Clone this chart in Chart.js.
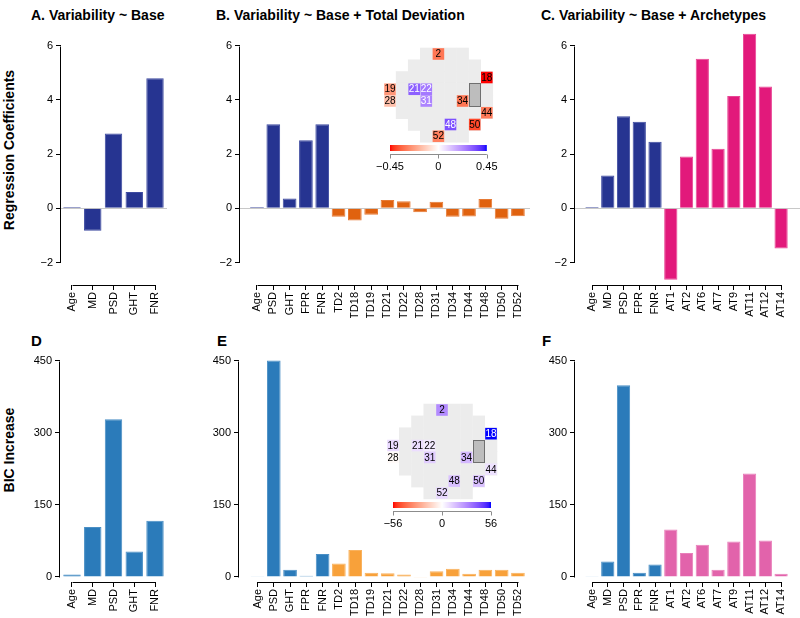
<!DOCTYPE html>
<html>
<head>
<meta charset="utf-8">
<script src="https://cdn.jsdelivr.net/npm/chart.js@4.4.1/dist/chart.umd.min.js"></script>
<style>
  html, body { margin: 0; padding: 0; background: #fff; }
  body { position: relative; width: 800px; height: 618px; overflow: hidden; font-family: 'Liberation Sans', Arial, sans-serif; color: #000; }
  canvas { position: absolute; }
  .title { position: absolute; font-size: 14px; font-weight: bold; white-space: nowrap; }
  .letter { position: absolute; font-size: 15px; font-weight: bold; }
  .y-title { position: absolute; font-size: 14px; font-weight: bold; white-space: nowrap; transform: translate(-50%, -50%) rotate(-90deg); }
</style>
</head>
<body>
<div class="title" style="left:31px; top:7px">A. Variability ~ Base</div>
<div class="title" style="left:216px; top:7px">B. Variability ~ Base + Total Deviation</div>
<div class="title" style="left:541px; top:7px">C. Variability ~ Base + Archetypes</div>
<div class="letter" style="left:31px; top:332px">D</div>
<div class="letter" style="left:217px; top:332px">E</div>
<div class="letter" style="left:542px; top:332px">F</div>
<div class="y-title" style="left:9px; top:150px">Regression Coefficients</div>
<div class="y-title" style="left:9px; top:450px">BIC Increase</div>

<script>
// predictors
const baseA = ['Age', 'MD', 'PSD', 'GHT', 'FNR'];
const baseB = ['Age', 'PSD', 'GHT', 'FPR', 'FNR'];
const baseC = ['Age', 'MD', 'PSD', 'FPR', 'FNR'];
const tdCells = [2, 18, 19, 21, 22, 28, 31, 34, 44, 48, 50, 52];
const archetypes = [1, 2, 6, 7, 9, 11, 12, 14];

// regression coefficients (top row)
const coefA = [0.05, -0.83, 2.76, 0.6, 4.8];
const coefB = [0.05, 3.1, 0.36, 2.51, 3.1,
  -0.31, -0.45, -0.24, 0.31, 0.26, -0.15, 0.24, -0.31, -0.3, 0.34, -0.39, -0.29];
const coefC = [0.05, 1.21, 3.4, 3.2, 2.46,
  -2.64, 1.91, 5.52, 2.2, 4.15, 6.45, 4.5, -1.48];

// BIC increase (bottom row)
const bicA = [5, 104, 328, 53, 117];
const bicB = [1.5, 450, 15, 2.5, 48,
  28, 56, 9, 8, 5, -1.5, 12, 17, 7, 15, 15, 9];
const bicC = [1.5, 32, 399, 9, 26,
  99, 50, 67, 15, 74, 215, 76, 7];

// colour bar ticks of the two field maps
const coefLimits = [-0.45, 0, 0.45];
const bicLimits = [-56, 0, 56];

const tdLabels = tdCells.map(n => `TD${n}`);
const atLabels = archetypes.map(n => `AT${n}`);

// 24-2 visual field: first and last column of every row
const FIELD_ROWS = [[3, 6], [2, 7], [1, 8], [0, 8], [0, 8], [1, 8], [2, 7], [3, 6]];
const BLIND_SPOT = { col: 7, rows: [3, 4] };

const FONT = "'Liberation Sans', Arial, sans-serif";
Chart.defaults.font.family = FONT;
Chart.defaults.font.size = 11;
Chart.defaults.color = '#000';

const minus = v => (v < 0 ? '\u2212' : '') + Math.abs(v);

// red - white - blue ramp interpolated in Lab
const toLinear = c => {
  c /= 255;
  return c <= 0.04045 ? c / 12.92 : Math.pow((c + 0.055) / 1.055, 2.4);
};
const fromLinear = c => {
  const v = c <= 0.0031308 ? 12.92 * c : 1.055 * Math.pow(c, 1 / 2.4) - 0.055;
  return Math.round(Math.min(1, Math.max(0, v)) * 255);
};

function toLab([r, g, b]) {
  const R = toLinear(r), G = toLinear(g), B = toLinear(b);
  const f = t => t > 0.008856 ? Math.cbrt(t) : 7.787 * t + 16 / 116;
  const X = f((0.4124 * R + 0.3576 * G + 0.1805 * B) / 0.95047);
  const Y = f(0.2126 * R + 0.7152 * G + 0.0722 * B);
  const Z = f((0.0193 * R + 0.1192 * G + 0.9505 * B) / 1.08883);
  return [116 * Y - 16, 500 * (X - Y), 200 * (Y - Z)];
}

function fromLab([L, a, b]) {
  const fy = (L + 16) / 116;
  const inv = t => t ** 3 > 0.008856 ? t ** 3 : (t - 16 / 116) / 7.787;
  const X = inv(fy + a / 500) * 0.95047;
  const Y = inv(fy);
  const Z = inv(fy - b / 200) * 1.08883;
  return [
    fromLinear(3.2406 * X - 1.5372 * Y - 0.4986 * Z),
    fromLinear(-0.9689 * X + 1.8758 * Y + 0.0415 * Z),
    fromLinear(0.0557 * X - 0.2040 * Y + 1.0570 * Z),
  ];
}

const LAB_WHITE = toLab([255, 255, 255]);
const LAB_RED = toLab([255, 0, 0]);
const LAB_BLUE = toLab([0, 0, 255]);

function ramp(t) {
  t = Math.max(-1, Math.min(1, t));
  const end = t < 0 ? LAB_RED : LAB_BLUE;
  const k = Math.abs(t);
  const [r, g, b] = fromLab(LAB_WHITE.map((w, i) => w + (end[i] - w) * k));
  return `rgb(${r},${g},${b})`;
}

function fieldCells() {
  const cells = [];
  FIELD_ROWS.forEach(([first, last], row) => {
    for (let col = first; col <= last; col++) {
      cells.push({ n: cells.length + 1, row, col });
    }
  });
  return cells;
}

function canvasAt([left, top, width, height]) {
  const canvas = document.createElement('canvas');
  canvas.width = width;
  canvas.height = height;
  Object.assign(canvas.style, {
    left: `${left}px`,
    top: `${top}px`,
    width: `${width}px`,
    height: `${height}px`,
  });
  document.body.appendChild(canvas);
  return canvas;
}

// R-like axes: lines only from the first to the last tick, plus the zero line
const rAxes = {
  id: 'rAxes',
  beforeDatasetsDraw(chart, _, opts) {
    if (!opts.zeroLine) return;
    const { ctx, chartArea, scales } = chart;
    const py = Math.round(scales.y.getPixelForValue(0)) + 0.5;
    ctx.save();
    ctx.strokeStyle = '#c8c8c8';
    ctx.lineWidth = 1;
    ctx.beginPath();
    ctx.moveTo(chartArea.left, py);
    ctx.lineTo(chartArea.right, py);
    ctx.stroke();
    ctx.restore();
  },
  afterDraw(chart) {
    const { ctx, chartArea, scales: { x, y } } = chart;
    const ends = scale => [scale.ticks[0], scale.ticks[scale.ticks.length - 1]]
      .map(tick => Math.round(scale.getPixelForValue(tick.value)) + 0.5);
    const [y0, y1] = ends(y);
    const [x0, x1] = ends(x);
    const left = Math.round(chartArea.left) - 0.5;
    const bottom = Math.round(chartArea.bottom) + 0.5;

    ctx.save();
    ctx.strokeStyle = '#000';
    ctx.lineWidth = 1;
    ctx.beginPath();
    ctx.moveTo(left, y0);
    ctx.lineTo(left, y1);
    ctx.moveTo(x0, bottom);
    ctx.lineTo(x1, bottom);
    ctx.stroke();
    ctx.restore();
  },
};

function barPanel(p) {
  const { labels, values } = p;
  const pick = (i, a, b) => (i < p.baseCount ? a : b);
  const tickGrid = { drawOnChartArea: false, tickLength: 5, color: '#000', lineWidth: 1 };

  new Chart(canvasAt(p.box), {
    type: 'bar',
    data: {
      datasets: [{
        data: values.map((y, x) => ({ x, y })),
        backgroundColor: values.map((_, i) => pick(i, p.colors[0], p.colors[1])),
        borderColor: values.map((_, i) => pick(i, p.colors[2], p.colors[3])),
        borderWidth: 1,
        categoryPercentage: 1,
        barPercentage: 0.84,
      }],
    },
    options: {
      responsive: false,
      animation: false,
      events: [],
      layout: { padding: 0 },
      plugins: {
        legend: { display: false },
        tooltip: { enabled: false },
        rAxes: { zeroLine: p.zeroLine },
      },
      scales: {
        x: {
          type: 'linear',
          min: p.xRange[0],
          max: p.xRange[1],
          offset: false,
          border: { display: false },
          grid: { ...tickGrid, offset: false },
          ticks: {
            autoSkip: false,
            minRotation: 90,
            maxRotation: 90,
            padding: 2,
            callback: v => labels[v],
          },
          afterBuildTicks: scale => {
            scale.ticks = labels.map((_, value) => ({ value }));
          },
          afterFit: scale => {
            scale.height = p.xHeight;
            scale.paddingLeft = 0;
            scale.paddingRight = 0;
          },
        },
        y: {
          min: p.yRange[0],
          max: p.yRange[1],
          border: { display: false },
          grid: tickGrid,
          ticks: {
            stepSize: p.step,
            includeBounds: false,
            padding: 3,
            callback: minus,
          },
          afterFit: scale => {
            scale.width = 40;
            scale.paddingTop = 0;
            scale.paddingBottom = 0;
          },
        },
      },
    },
    plugins: [rAxes],
  });
}

// blind spot, cell numbers and colour bar of the field maps
const fieldDecor = {
  id: 'fieldDecor',
  afterDatasetsDraw(chart, _, opts) {
    const { ctx, scales: { x, y } } = chart;
    const lastCol = Math.max(...FIELD_ROWS.map(r => r[1]));
    ctx.save();

    const bx0 = Math.round(x.getPixelForValue(BLIND_SPOT.col - 0.5)) + 0.5;
    const bx1 = Math.round(x.getPixelForValue(BLIND_SPOT.col + 0.5)) - 0.5;
    const by0 = Math.round(y.getPixelForValue(BLIND_SPOT.rows[0] - 0.5)) + 0.5;
    const by1 = Math.round(y.getPixelForValue(BLIND_SPOT.rows[1] + 0.5)) - 0.5;
    ctx.fillStyle = '#bdbdbd';
    ctx.strokeStyle = '#6f6f6f';
    ctx.lineWidth = 1;
    ctx.fillRect(bx0, by0, bx1 - bx0, by1 - by0);
    ctx.strokeRect(bx0, by0, bx1 - bx0, by1 - by0);

    ctx.font = `10px ${FONT}`;
    ctx.textAlign = 'center';
    ctx.textBaseline = 'middle';
    opts.cells.forEach(c => {
      ctx.fillStyle = c.t > 0.52 ? '#fff' : '#000';
      ctx.fillText(c.n, x.getPixelForValue(c.col), y.getPixelForValue(c.row) + 0.5);
    });

    const limit = opts.limits[opts.limits.length - 1];
    const colOf = v => lastCol / 2 + (lastCol / 2) * v / limit;
    const cx0 = x.getPixelForValue(colOf(-limit));
    const cx1 = x.getPixelForValue(colOf(limit));
    const cy = y.getPixelForValue(FIELD_ROWS.length);
    const gradient = ctx.createLinearGradient(cx0, 0, cx1, 0);
    for (let i = 0; i <= 40; i++) {
      gradient.addColorStop(i / 40, ramp(i / 20 - 1));
    }
    ctx.fillStyle = gradient;
    ctx.fillRect(cx0, Math.round(cy) - 3, cx1 - cx0, 6);

    const ly = Math.round(cy) + 6.5;
    ctx.strokeStyle = '#8c8c8c';
    ctx.beginPath();
    ctx.moveTo(cx0, ly);
    ctx.lineTo(cx1, ly);
    opts.limits.forEach(v => {
      const px = Math.round(x.getPixelForValue(colOf(v))) + 0.5;
      ctx.moveTo(px, ly);
      ctx.lineTo(px, ly + 4);
    });
    ctx.stroke();

    ctx.font = `11px ${FONT}`;
    ctx.fillStyle = '#000';
    opts.limits.forEach(v => {
      ctx.fillText(minus(v), x.getPixelForValue(colOf(v)), ly + 12);
    });
    ctx.restore();
  },
};

function fieldPanel(p) {
  const cells = fieldCells();
  const limit = p.limits[p.limits.length - 1];
  const marked = tdCells.map((n, i) => ({ ...cells[n - 1], t: p.values[i] / limit }));
  const point = c => ({ x: c.col, y: c.row });

  new Chart(canvasAt(p.box), {
    type: 'scatter',
    data: {
      datasets: [
        {
          data: marked.map(point),
          pointStyle: 'rect',
          pointRadius: 8.2,
          pointBorderWidth: 0,
          pointBackgroundColor: marked.map(c => ramp(c.t)),
          order: 0,
        },
        {
          data: cells.filter(c => c.col > 0).map(point),
          pointStyle: 'rect',
          pointRadius: 8.9,
          pointBorderWidth: 0,
          pointBackgroundColor: '#ececec',
          order: 1,
        },
      ],
    },
    options: {
      responsive: false,
      animation: false,
      events: [],
      layout: { padding: 0, autoPadding: false },
      plugins: {
        legend: { display: false },
        tooltip: { enabled: false },
        fieldDecor: { cells: marked, limits: p.limits },
      },
      scales: {
        x: { type: 'linear', display: false, min: p.xRange[0], max: p.xRange[1] },
        y: { type: 'linear', display: false, min: p.yRange[0], max: p.yRange[1], reverse: true },
      },
    },
    plugins: [fieldDecor],
  });
}

const TOP = ['#263491', '#e0620f', '#3d4aa0', '#e67a35'];
const TOP_C = ['#263491', '#e2197b', '#3d4aa0', '#e84594'];
const BOTTOM = ['#2b7bba', '#f8a13a', '#4a8fc5', '#f9b25e'];
const BOTTOM_C = ['#2b7bba', '#e263ab', '#4a8fc5', '#e97fba'];

const coefY = [-2.832, 6.806];
const bicY = [-10.4, 470];

barPanel({ box: [21, 24, 146, 294], xHeight: 33, xRange: [-0.53, 4.578], yRange: coefY, step: 2,
  labels: baseA, values: coefA, baseCount: baseA.length, colors: TOP, zeroLine: true });
barPanel({ box: [200, 24, 330, 294], xHeight: 33, xRange: [-1.042, 16.74], yRange: coefY, step: 2,
  labels: [...baseB, ...tdLabels], values: coefB, baseCount: baseB.length, colors: TOP, zeroLine: true });
barPanel({ box: [535, 24, 265, 294], xHeight: 33, xRange: [-1.079, 13.2], yRange: coefY, step: 2,
  labels: [...baseC, ...atLabels], values: coefC, baseCount: baseC.length, colors: TOP_C, zeroLine: true });

barPanel({ box: [20, 351, 147, 267], xHeight: 36, xRange: [-0.578, 4.578], yRange: bicY, step: 150,
  labels: baseA, values: bicA, baseCount: baseA.length, colors: BOTTOM, zeroLine: false });
barPanel({ box: [199, 351, 331, 267], xHeight: 36, xRange: [-1.136, 16.74], yRange: bicY, step: 150,
  labels: [...baseB, ...tdLabels], values: bicB, baseCount: baseB.length, colors: BOTTOM, zeroLine: false });
barPanel({ box: [535, 351, 265, 267], xHeight: 36, xRange: [-1.079, 13.2], yRange: bicY, step: 150,
  labels: [...baseC, ...atLabels], values: bicC, baseCount: baseC.length, colors: BOTTOM_C, zeroLine: false });

fieldPanel({ box: [370, 40, 140, 135], xRange: [-1.653, 9.917], yRange: [-1.191, 10.298],
  values: coefB.slice(baseB.length), limits: coefLimits });
fieldPanel({ box: [373, 396, 140, 135], xRange: [-1.633, 9.796], yRange: [-1.181, 10.21],
  values: bicB.slice(baseB.length), limits: bicLimits });
</script>
</body>
</html>
